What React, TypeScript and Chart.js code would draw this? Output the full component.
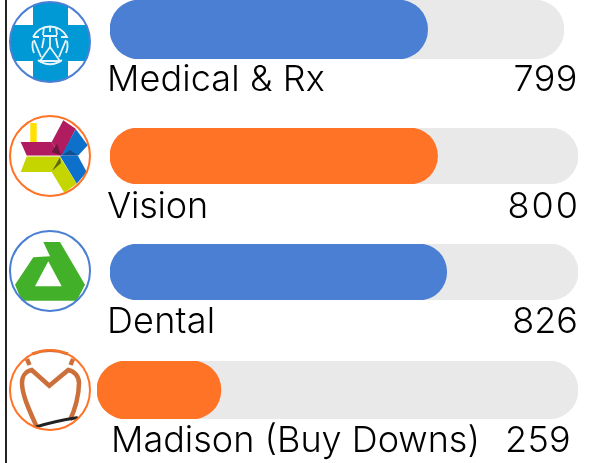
import React, { useEffect, useRef } from "react";
import { Chart, registerables } from "chart.js";

Chart.register(...registerables);

const categories = ["Medical & Rx", "Vision", "Dental", "Madison (Buy Downs)"];
const values = [799, 800, 826, 259];
const budgets = [1142, 1143, 1148, 1005];

const BLUE = "#4a7fd4";
const ORANGE = "#ff7327";
const TRACK = "#e9e9e9";
const barColors = [BLUE, ORANGE, BLUE, ORANGE];

const FONT = "Inter, sans-serif";
const rows = [
  { left: 110, top: 0, w: 454, h: 59, labelX: 107, labelY: 58, valueR: 578, valueY: 58, labelSp: 0.1, valueSp: 0.5 },
  { left: 110, top: 128, w: 468, h: 56, labelX: 107, labelY: 185, valueR: 580, valueY: 185, labelSp: -0.2, valueSp: 2 },
  { left: 110, top: 244, w: 468, h: 56, labelX: 107, labelY: 300, valueR: 578, valueY: 300, labelSp: 0.2, valueSp: 0 },
  { left: 97, top: 361, w: 481, h: 58, labelX: 111, labelY: 419, valueR: 571, valueY: 419, labelSp: 0, valueSp: 0.3 },
];

function BarRow({ index }: { index: number }) {
  const ref = useRef<HTMLCanvasElement | null>(null);
  const r = rows[index];
  useEffect(() => {
    const chart = new Chart(ref.current!, {
      type: "bar",
      data: {
        labels: [categories[index]],
        datasets: [
          { data: [values[index]], backgroundColor: barColors[index], order: 1 },
          { data: [budgets[index]], backgroundColor: TRACK, order: 2 },
        ].map((d) => ({
          ...d,
          barPercentage: 1,
          categoryPercentage: 1,
          borderRadius: r.h / 2,
          borderSkipped: false,
          grouped: false,
        })),
      },
      options: {
        indexAxis: "y",
        animation: false,
        responsive: false,
        layout: { padding: 0 },
        plugins: { legend: { display: false }, tooltip: { enabled: false }, title: { display: false } },
        scales: {
          x: { display: false, min: 0, max: budgets[index] },
          y: { display: false },
        },
      },
    });
    return () => chart.destroy();
  }, []);
  return (
    <canvas
      ref={ref}
      width={r.w}
      height={r.h}
      style={{ position: "absolute", left: r.left, top: r.top, width: r.w, height: r.h }}
    />
  );
}

function Icons() {
  return (
    <svg width={100} height={463} style={{ position: "absolute", left: 0, top: 0 }}>
      <defs>
        <clipPath id="c1"><circle cx={50} cy={42} r={40} /></clipPath>
        <filter id="b"><feGaussianBlur stdDeviation={0.5} /></filter>
      </defs>
      <line x1={6} y1={0} x2={6} y2={463} stroke="#222" strokeWidth={2} />
      <g clipPath="url(#c1)" filter="url(#b)">
        <rect x={33} y={2} width={35} height={80} fill="#0099d5" />
        <rect x={10} y={25} width={80} height={36} fill="#0099d5" />
        <path d="M33 37A19 19 0 0 1 67 37L61 37M39 37H33M34 53A19 19 0 0 1 33 41M66 53A19 19 0 0 0 67 41M38 60A19 19 0 0 0 62 60"
          stroke="#e8f6fc" strokeWidth={1.8} fill="none" />
        <path d="M44 27l-1 8M56 27l1 8M50 26v6M43 36H57"
          stroke="#e8f6fc" strokeWidth={1.8} fill="none" />
        <path d="M34 40L41 57M44 38L42 48M66 40L59 57M56 38L58 48M50 37V47M50 47L40 61H60Z"
          stroke="#e8f6fc" strokeWidth={1.8} fill="none" />
      </g>
      <circle cx={50} cy={42} r={40} fill="none" stroke={BLUE} strokeWidth={2} />

      <g filter="url(#b)">
        <rect x={30.3} y={123} width={6.4} height={19} fill="#ffe000" />
        <polygon points="20.7,142 51.7,142 60,155.5 26.7,155.5" fill="#b01b5e" />
        <polygon points="51.7,142 63.3,120.3 75.7,128.7 62.3,155.5 60,155.5" fill="#b01b5e" />
        <polygon points="75.7,129 87.7,145.3 78.3,155.5 61.5,155.5" fill="#0c6fcb" />
        <polygon points="60,156 78,156 86.7,172 76.7,183.7" fill="#0c6fcb" />
        <polygon points="26.7,156.5 60,156.5 51.7,172 20.7,172" fill="#c5d500" />
        <polygon points="51.7,172 60,157 76.7,183.7 64.3,192.7" fill="#c5d500" />
        <polygon points="51.7,152 57,144 61,155.5" fill="#6d1240" />
        <polygon points="62,155.5 70,150 78,155.5" fill="#0a4f93" />
        <polygon points="52,171 60,157 61,163" fill="#5f6a0a" />
      </g>
      <circle cx={50} cy={156} r={40} fill="none" stroke={ORANGE} strokeWidth={2} />

      <path
        fillRule="evenodd"
        d="M43.3 242H60L85 284.7L76.7 300.7H21.7L15 284.7L33.3 257.3L50 256.3ZM48.3 261.3L61.7 286.3H35Z"
        fill="#43b02a"
      />
      <circle cx={50} cy={271} r={40} fill="none" stroke={BLUE} strokeWidth={2} />

      <g filter="url(#b)" fill="none" strokeLinecap="butt">
        <path d="M32 354Q50 347 68 354" stroke="#cc6f3a" strokeWidth={3} />
        <path d="M27 359l2.5 6M73 359l-2.5 6" stroke="#cc6f3a" strokeWidth={4.5} />
        <path d="M36.7 426.7C30 412 22 395 22 383C22 376 26 371 31.7 370L49.3 385.7L68.3 370C74 371 79 376 79 383C79 395 75 410 70 420" stroke="#cc6f3a" strokeWidth={4.5} />
        <path d="M36.7 426.7Q55 421 76.7 417.7" stroke="#222" strokeWidth={3} strokeLinecap="round" />
      </g>
      <circle cx={50} cy={390} r={40} fill="none" stroke={ORANGE} strokeWidth={2} />
    </svg>
  );
}

export default function App() {
  return (
    <div style={{ position: "fixed", left: 0, top: 0, width: 596, height: 463, overflow: "hidden", background: "#fff" }}>
      <Icons />
      {categories.map((c, i) => (
        <React.Fragment key={c}>
          <BarRow index={i} />
          <span style={{ position: "absolute", left: rows[i].labelX, top: rows[i].labelY, font: `350 36px ${FONT}`, lineHeight: "40px", color: "#000", whiteSpace: "nowrap", letterSpacing: rows[i].labelSp }}>{c}</span>
          <span style={{ position: "absolute", right: 596 - rows[i].valueR, top: rows[i].valueY, font: `350 36px ${FONT}`, lineHeight: "40px", color: "#000", letterSpacing: rows[i].valueSp }}>{values[i]}</span>
        </React.Fragment>
      ))}
    </div>
  );
}
